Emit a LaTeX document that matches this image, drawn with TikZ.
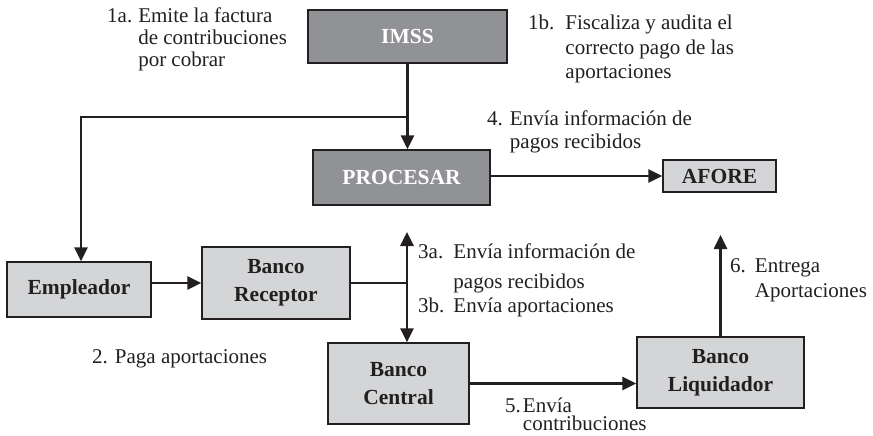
\documentclass[tikz,border=0pt]{standalone}
\usepackage{fontspec}
\setmainfont{Liberation Serif}
\usetikzlibrary{arrows.meta}
\definecolor{darkbox}{RGB}{145,146,150}
\definecolor{lightbox}{RGB}{212,213,215}
\definecolor{ink}{RGB}{35,31,32}
\begin{document}
\begin{tikzpicture}[x=1pt,y=-1pt,
  box/.style={draw=ink, line width=1.4pt, inner sep=0pt, align=center, font=\fontsize{21.5}{28}\selectfont\bfseries},
  darkb/.style={box, fill=darkbox, text=white},
  lightb/.style={box, fill=lightbox, text=ink},
  conn/.style={draw=ink, line width=2.6pt},
  tip/.tip={Triangle[length=14pt,width=13pt]},
  arr/.style={conn, -tip},
  lbl/.style={inner sep=0pt, anchor=base west, text=ink}]
\useasboundingbox (0,0) rectangle (873,436);

% boxes
\node[darkb, minimum width=199pt, minimum height=53pt] (imss) at (407.5,36.5) {IMSS};
\node[darkb, minimum width=177pt, minimum height=55pt] (procesar) at (401.5,177.5) {PROCESAR};
\node[lightb, minimum width=113pt, minimum height=32pt] (afore) at (719.5,176) {AFORE};
\node[lightb, minimum width=144pt, minimum height=55pt] (empleador) at (79,289.5) {Empleador};
\node[lightb, minimum width=148pt, minimum height=72pt] (receptor) at (276,283) {Banco\\Receptor};
\node[lightb, minimum width=141pt, minimum height=81pt] (central) at (398.5,383.5) {Banco\\Central};
\node[lightb, minimum width=167pt, minimum height=71pt] (liquidador) at (720.5,372.5) {Banco\\Liquidador};

% connectors
\coordinate (br) at (407.5,117);
\coordinate (brl) at (81,117);
\coordinate (up3) at (407,232);
\coordinate (up6) at (720.5,235);
\draw[arr] (imss.south) -- (procesar.north -| imss.south);
\draw[arr] (br) -- (brl) -- (brl |- empleador.north);
\draw[arr] (procesar.east |- afore.west) -- (afore.west);
\draw[arr] (empleador.east |- receptor.west) -- (receptor.west);
\draw[conn, tip-tip] (up3) -- (up3 |- central.north);
\draw[conn] (receptor.east) -- (receptor.east -| up3);
\draw[arr] (central.east) -- (liquidador.west |- central.east);
\draw[arr] (liquidador.north) -- (up6);

% labels
\node[lbl, font=\fontsize{21}{22}\selectfont] (t1a) at (107,23)
  {\begin{tabular}[t]{@{}l@{\hspace{6pt}}l@{}}1a.& Emite la factura\\ & de contribuciones\\ & por cobrar\end{tabular}};
\node[lbl, font=\fontsize{21}{24.5}\selectfont] (t1b) at (528,30)
  {\begin{tabular}[t]{@{}l@{\hspace{11pt}}l@{}}1b.& Fiscaliza y audita el\\ & correcto pago de las\\ & aportaciones\end{tabular}};
\node[lbl, font=\fontsize{21}{23}\selectfont] (t4) at (487,125)
  {\begin{tabular}[t]{@{}l@{\hspace{7pt}}l@{}}4.& Envía información de\\ & pagos recibidos\end{tabular}};
\node[lbl, font=\fontsize{21}{22}\selectfont] (t3) at (418,258)
  {\begin{tabular}[t]{@{}l@{\hspace{9pt}}l@{}}3a.& Envía información de\\[8pt] & pagos recibidos\\[2pt] 3b.& Envía aportaciones\end{tabular}};
\node[lbl, font=\fontsize{21}{25}\selectfont] (t6) at (730,272)
  {\begin{tabular}[t]{@{}l@{\hspace{9pt}}l@{}}6.& Entrega\\ & Aportaciones\end{tabular}};
\node[lbl, font=\fontsize{21}{13}\selectfont] (t5) at (505,412)
  {\begin{tabular}[t]{@{}l@{\hspace{2pt}}l@{}}5.& Envía\\ & contribuciones\end{tabular}};
\node[lbl, font=\fontsize{21}{22}\selectfont] (t2) at (92,363) {2. Paga aportaciones};
\end{tikzpicture}
\end{document}
